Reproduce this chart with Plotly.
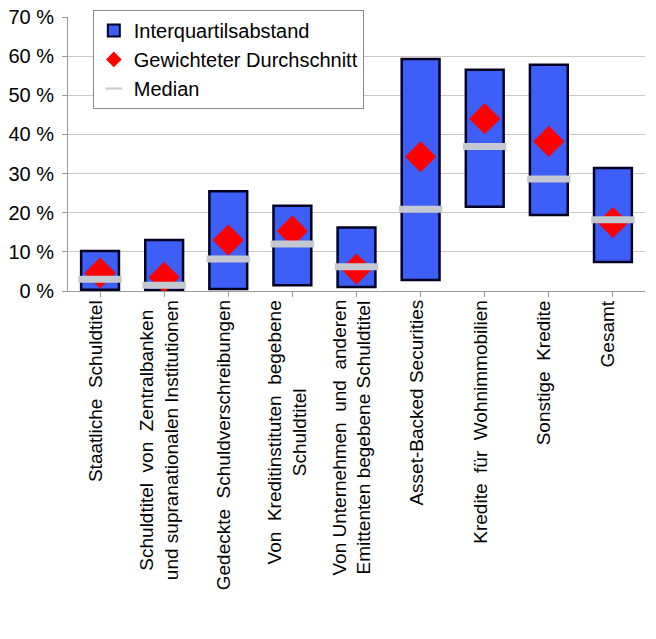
import plotly.graph_objects as go

categories = [
    "Staatliche  Schuldtitel",
    "Schuldtitel  von  Zentralbanken<br>und supranationalen Institutionen",
    "Gedeckte  Schuldverschreibungen",
    "Von  Kreditinstituten  begebene<br>Schuldtitel",
    "Von Unternehmen  und  anderen<br>Emittenten begebene Schuldtitel",
    "Asset-Backed Securities",
    "Kredite  für  Wohnimmobilien",
    "Sonstige  Kredite",
    "Gesamt",
]
q1 = [0.3, 0.2, 0.5, 1.5, 1.0, 2.8, 21.5, 19.4, 7.4]
q3 = [10.2, 13.0, 25.5, 21.8, 16.2, 59.3, 56.5, 57.8, 31.4]
median = [3.0, 1.5, 8.2, 12.0, 6.2, 20.9, 36.9, 28.6, 18.2]
mean = [4.6, 3.5, 13.0, 15.3, 5.6, 34.3, 44.0, 38.2, 17.5]
yticks = [0, 10, 20, 30, 40, 50, 60, 70]

idx = list(range(len(categories)))

fig = go.Figure()
fig.add_trace(go.Bar(
    x=idx, y=[b - a for a, b in zip(q1, q3)], base=q1,
    name="Interquartilsabstand", width=0.59,
    marker=dict(color="#3d5ef7", line=dict(color="#000022", width=2.5)),
))
fig.add_trace(go.Scatter(
    x=idx, y=mean, mode="markers", name="Gewichteter Durchschnitt",
    marker=dict(symbol="diamond", size=24, color="#ff0000", line=dict(width=0)),
))
fig.add_trace(go.Scatter(
    x=idx, y=median, mode="markers", name="Median",
    marker=dict(symbol="line-ew", size=31, color="#c4c8d0",
                line=dict(color="#c4c8d0", width=7)),
))

for i, lab in enumerate(categories):
    fig.add_annotation(
        x=i, y=0, xref="x", yref="paper", text=lab, textangle=-90,
        showarrow=False, xanchor="center", yanchor="top", yshift=-7, xshift=-5,
        align="center", font=dict(family="Liberation Sans, Arial", size=19, color="black"),
    )

fig.update_layout(
    width=656, height=639,
    margin=dict(l=68, r=11, t=17, b=348, autoexpand=False),
    paper_bgcolor="white", plot_bgcolor="white",
    font=dict(family="Liberation Sans, Arial", size=20, color="black"),
    showlegend=True,
    legend=dict(x=0.043, y=1.026, xanchor="left", yanchor="top",
                bgcolor="white", bordercolor="#888888", borderwidth=1,
                font=dict(size=20), tracegroupgap=0, itemsizing="constant",
                itemwidth=30),
    bargap=0.41,
)
fig.update_xaxes(
    range=[-0.5, len(categories) - 0.5], tickmode="array", tickvals=idx,
    showticklabels=False, showgrid=False,
    showline=True, linecolor="#9a9a9a", linewidth=1,
    ticks="outside", ticklen=5, tickcolor="#9a9a9a", tickson="boundaries",
)
fig.update_yaxes(
    range=[0, 70], tickvals=yticks, ticktext=[f"{v} %" for v in yticks],
    showgrid=True, gridcolor="#c8c8c8", gridwidth=1,
    showline=True, linecolor="#9a9a9a", linewidth=1,
    ticks="outside", ticklen=5, tickcolor="#9a9a9a",
    zeroline=False, tickfont=dict(size=20), ticklabeloverflow="allow",
    ticklabelstandoff=4,
)

# remove the browser's default 8px body margin so the figure fills the window exactly
fig.write_html("out.html", config={"displayModeBar": False},
               post_script="document.body.style.margin='0';")
